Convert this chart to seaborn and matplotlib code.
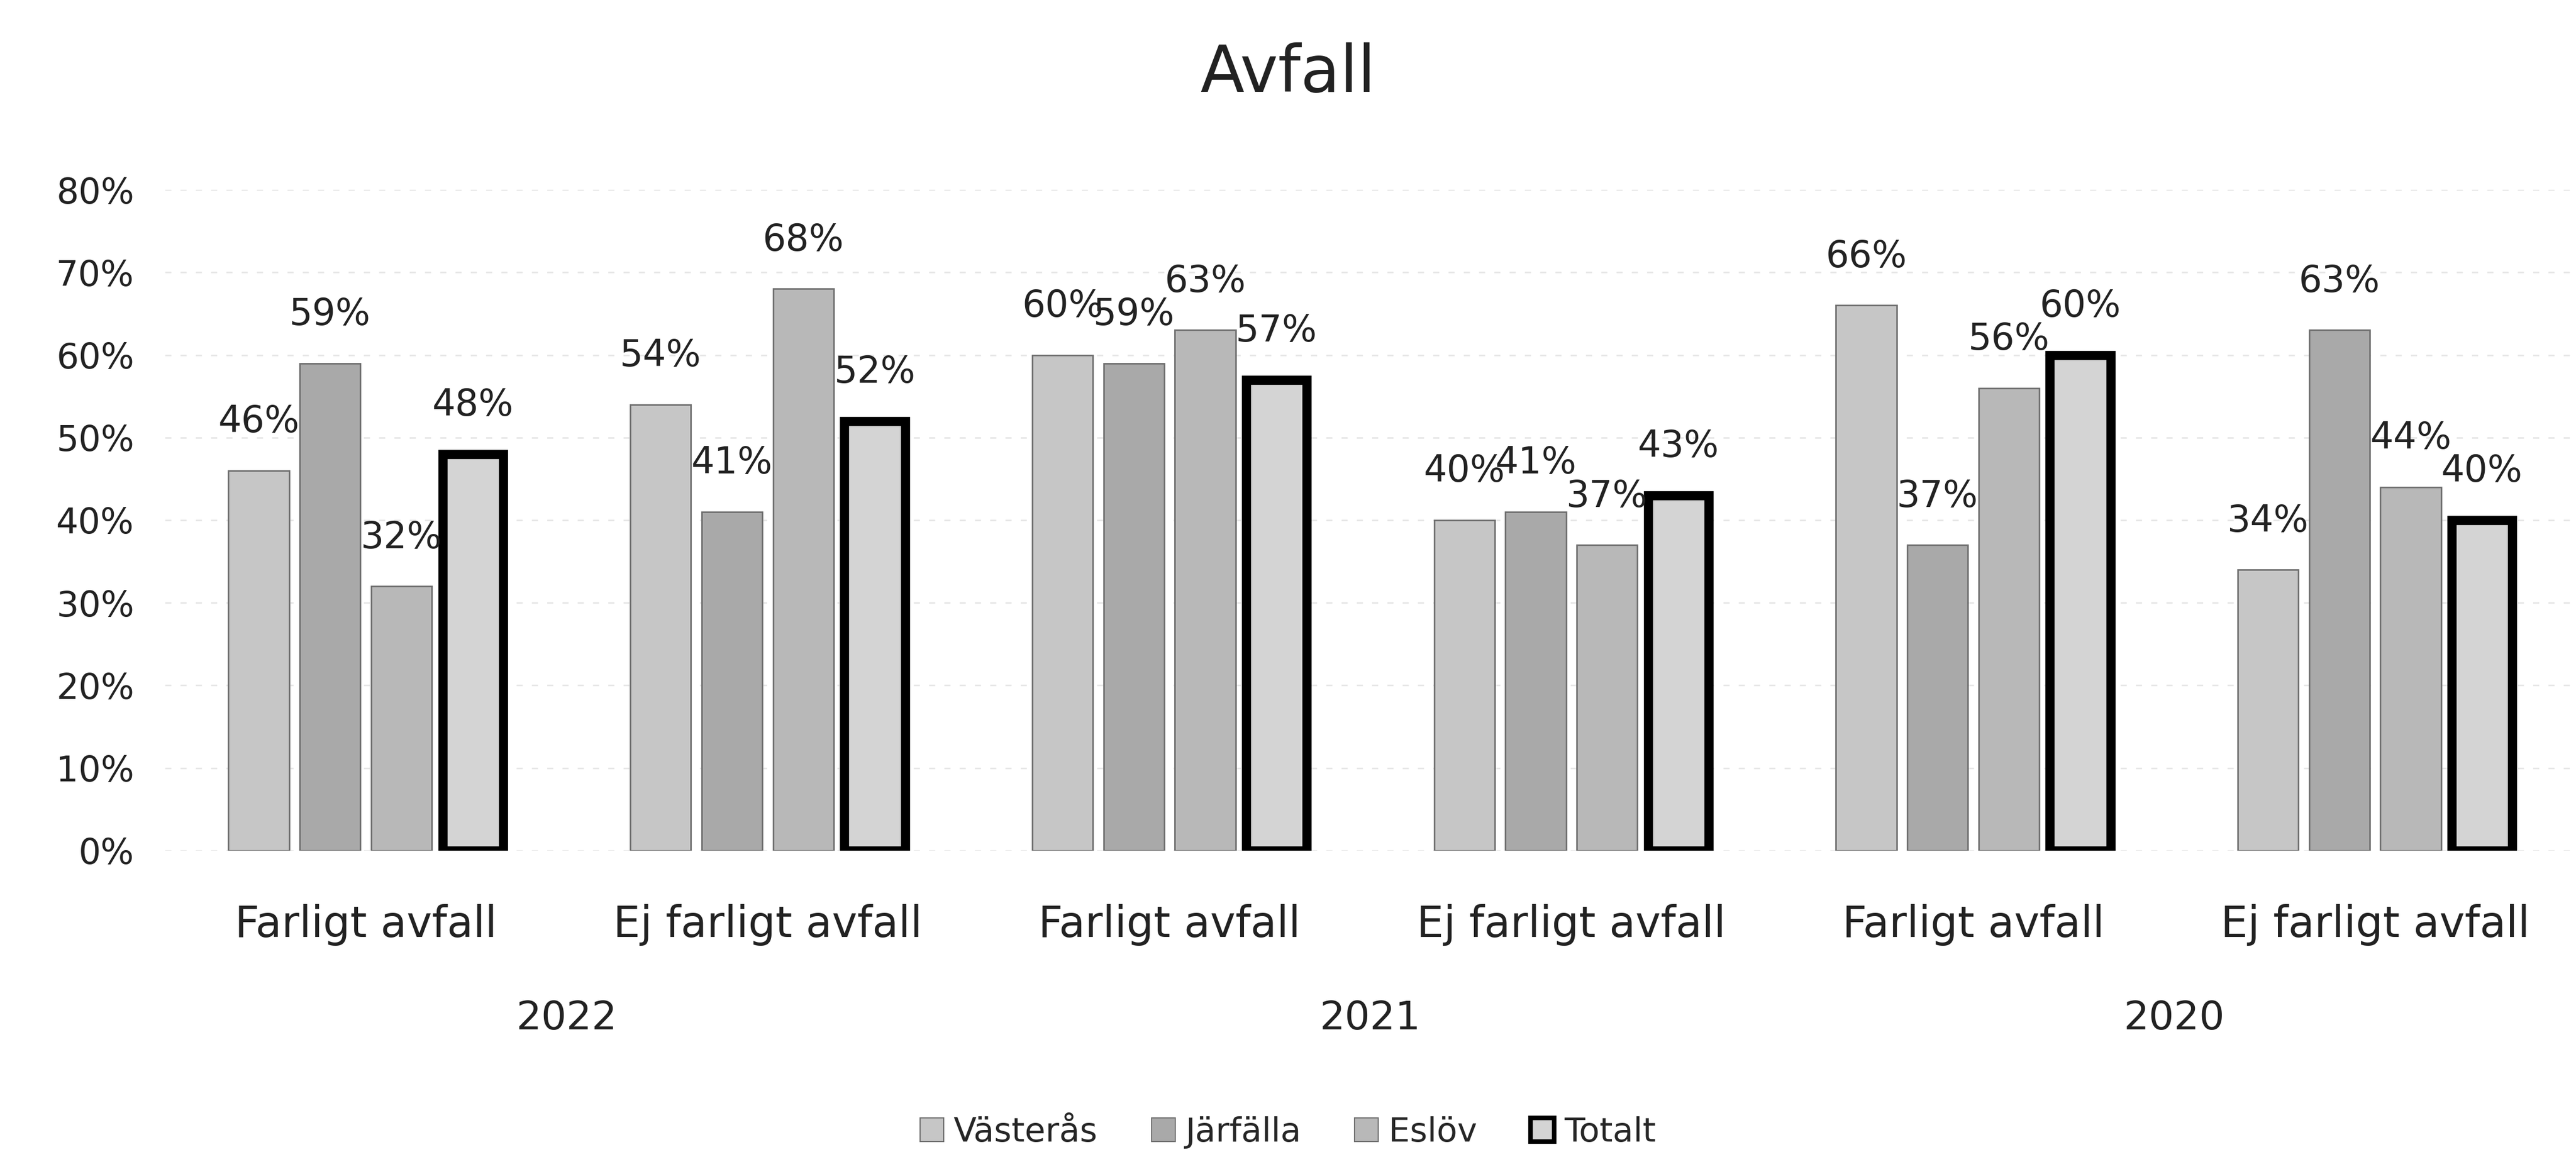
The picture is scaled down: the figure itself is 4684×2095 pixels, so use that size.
import pandas as pd
import seaborn as sns
import matplotlib.pyplot as plt
import matplotlib.transforms as mtransforms
from matplotlib.patches import Patch

# --- Data ---
years = ["2022", "2022", "2021", "2021", "2020", "2020"]
categories = ["Farligt avfall", "Ej farligt avfall",
              "Farligt avfall", "Ej farligt avfall",
              "Farligt avfall", "Ej farligt avfall"]
vasteras = [46, 54, 60, 40, 66, 34]
jarfalla = [59, 41, 59, 41, 37, 63]
eslov = [32, 68, 63, 37, 56, 44]
totalt = [48, 52, 57, 43, 60, 40]
series = ["Västerås", "Järfälla", "Eslöv", "Totalt"]
yticks = [0, 10, 20, 30, 40, 50, 60, 70, 80]

colors = {"Västerås": "#c6c6c6", "Järfälla": "#a9a9a9",
          "Eslöv": "#b8b8b8", "Totalt": "#d4d4d4"}

groups = [f"{y} {c}" for y, c in zip(years, categories)]
rows = []
for name, vals in zip(series, [vasteras, jarfalla, eslov, totalt]):
    for g, v in zip(groups, vals):
        rows.append({"grupp": g, "kommun": name, "andel": v})
df = pd.DataFrame(rows)

sns.set_style("white")
plt.rcParams["font.family"] = ["DejaVu Sans"]

fig = plt.figure(figsize=(46.84, 20.95), dpi=100)
ax = fig.add_axes([0.064, 0.2616, 0.936, 0.5737])

sns.barplot(data=df, x="grupp", y="andel", hue="kommun", order=groups,
            hue_order=series, palette=colors, width=0.71, gap=0.15,
            legend=False, ax=ax, edgecolor="#6e6e6e", linewidth=2)

# Totalt gets a heavy black outline
for name, cont in zip(series, ax.containers):
    if name == "Totalt":
        for bar in cont:
            bar.set_edgecolor("black")
            bar.set_linewidth(12)
    ax.bar_label(cont, labels=[f"{int(b.get_height())}%" for b in cont],
                 padding=40, fontsize=48, color="#222222")

ax.set_ylim(0, 80)
ax.set_xlim(-0.5, 5.5)
ax.set_yticks(yticks)
ax.set_yticklabels([f"{t}%" for t in yticks], fontsize=46, color="#222222")
ax.set_xticks(range(len(groups)))
ax.set_xticklabels(categories, fontsize=56, color="#222222")
ax.tick_params(axis="x", length=0, pad=70)
ax.tick_params(axis="y", length=0, pad=40)
ax.set_xlabel("")
ax.set_ylabel("")
ax.yaxis.grid(True, color="#e6e6e6", linestyle=(0, (4, 6)), linewidth=2)
ax.set_axisbelow(True)
sns.despine(ax=ax, left=True, bottom=True)

# year labels under each pair of groups
trans = mtransforms.blended_transform_factory(ax.transData, ax.transAxes)
for i in range(0, len(groups), 2):
    ax.text(i + 0.5, -0.254, years[i], transform=trans, ha="center",
            va="center", fontsize=52, color="#222222")

fig.suptitle("Avfall", y=0.936, va="center", fontsize=84, color="#222222")

handles = [Patch(facecolor=colors[s], edgecolor="black" if s == "Totalt" else "#6e6e6e",
                 linewidth=6 if s == "Totalt" else 1.5) for s in series]
fig.legend(handles, series, loc="center", bbox_to_anchor=(0.5, 0.017), ncol=4,
           frameon=False, fontsize=44, handlelength=0.7, handleheight=0.7,
           handletextpad=0.3, columnspacing=1.6)

fig.savefig("out.png", dpi=100)
